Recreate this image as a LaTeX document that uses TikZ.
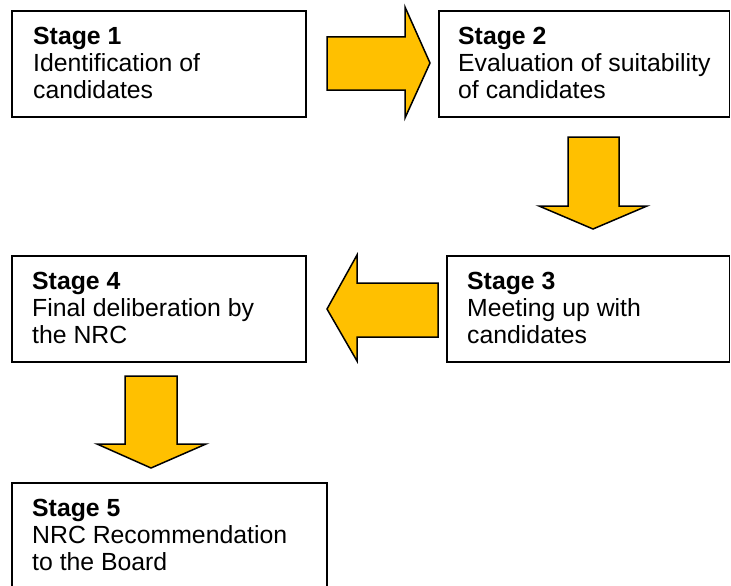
\documentclass[tikz,border=0pt]{standalone}
\usepackage{fontspec}
\setmainfont{Liberation Sans}
\definecolor{gold}{HTML}{FFC000}
\begin{document}
\begin{tikzpicture}[x=1pt,y=-1pt,
  stagebox/.style={draw=black,line width=1.5pt,fill=white,rectangle},
  stagetext/.style={anchor=west,align=left,inner sep=0pt,font=\fontsize{24.8}{27}\selectfont},
  blockarrow/.style={draw=black,line width=1.5pt,fill=gold,line join=miter}]
\useasboundingbox (0,0) rectangle (731,586);
\clip (0,0) rectangle (731,586);
% boxes
\draw[stagebox] (12,11) rectangle (306,117);
\coordinate (b1w) at (12,62.5);
\draw[stagebox] (439,11) rectangle (729.5,117);
\coordinate (b2w) at (439,62.5);
\draw[stagebox] (447,256) rectangle (729.5,362);
\coordinate (b3w) at (447,307.5);
\draw[stagebox] (12,256) rectangle (306,362);
\coordinate (b4w) at (12,307.5);
\draw[stagebox] (12,483) rectangle (327,589);
\coordinate (b5w) at (12,534.5);
% texts
\node[stagetext] (t1) at ([xshift=21pt]b1w) {\textbf{Stage 1}\\Identification of\\candidates};
\node[stagetext] (t2) at ([xshift=19pt]b2w) {\textbf{Stage 2}\\Evaluation of suitability\\of candidates};
\node[stagetext] (t3) at ([xshift=20pt]b3w) {\textbf{Stage 3}\\Meeting up with\\candidates};
\node[stagetext] (t4) at ([xshift=20pt]b4w) {\textbf{Stage 4}\\Final deliberation by\\the NRC};
\node[stagetext] (t5) at ([xshift=20pt]b5w) {\textbf{Stage 5}\\NRC Recommendation\\to the Board};
% block arrows
\draw[blockarrow] (327,37) -- (405,37) -- (405,7) -- (430,63) -- (405,118) -- (405,90) -- (327,90) -- cycle;
\draw[blockarrow] (568,137) -- (619,137) -- (619,206) -- (647,206) -- (593,229) -- (539,206) -- (568,206) -- cycle;
\draw[blockarrow] (438,283) -- (357,283) -- (357,255) -- (327,309) -- (357,361) -- (357,337) -- (438,337) -- cycle;
\draw[blockarrow] (125,376) -- (177,376) -- (177,444) -- (206,444) -- (151,468) -- (97,444) -- (125,444) -- cycle;
\end{tikzpicture}
\end{document}
